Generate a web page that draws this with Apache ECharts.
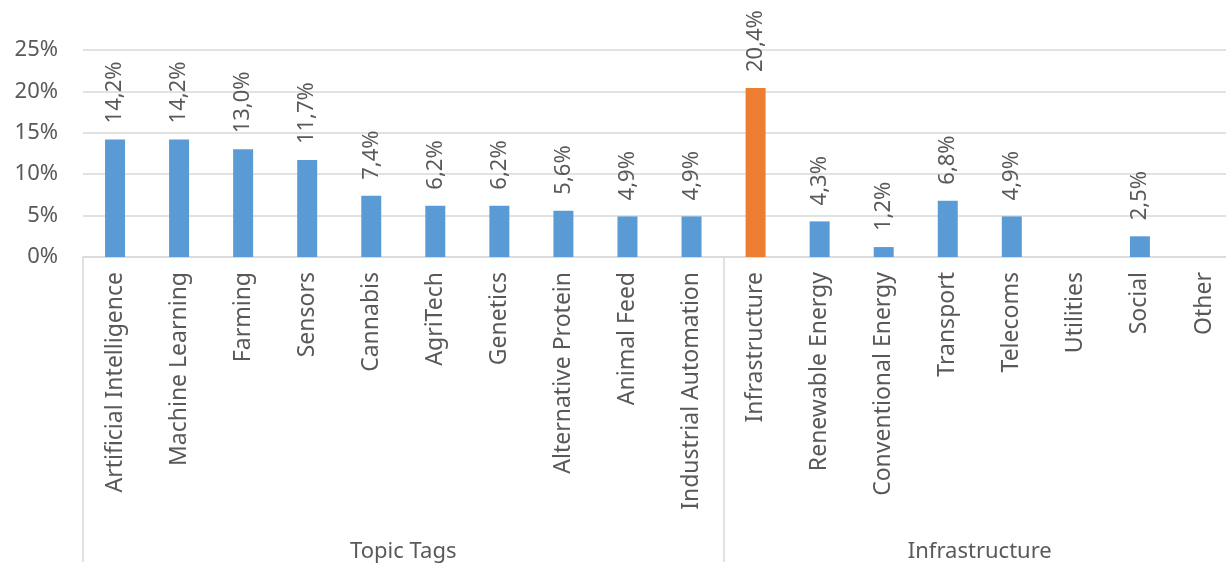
<!DOCTYPE html>
<html>
<head>
<meta charset="utf-8">
<script src="https://cdn.jsdelivr.net/npm/echarts@6/dist/echarts.min.js"></script>
<style>
  html, body { margin: 0; padding: 0; background: #fff; overflow: hidden; }
  /* the source picture is cropped on the right, so the chart is a bit wider than the window */
  #chart { width: 1239px; height: 563px; }
</style>
</head>
<body>
<div id="chart"></div>
<script>
const categories = [
  'Artificial Intelligence', 'Machine Learning', 'Farming', 'Sensors', 'Cannabis',
  'AgriTech', 'Genetics', 'Alternative Protein', 'Animal Feed', 'Industrial Automation',
  'Infrastructure', 'Renewable Energy', 'Conventional Energy', 'Transport', 'Telecoms',
  'Utilities', 'Social', 'Other'
]
const values = [14.2, 14.2, 13.0, 11.7, 7.4, 6.2, 6.2, 5.6, 4.9, 4.9, 20.4, 4.3, 1.2, 6.8, 4.9, null, 2.5, null]
const groups = ['Topic Tags', 'Infrastructure']
const groupSizes = [10, 8]
const highlighted = ['Infrastructure']
const yTicks = [0, 5, 10, 15, 20, 25]

const BLUE = '#5b9bd5'
const ORANGE = '#ed7d31'
const TEXT = '#595959'
const FONT = 'Noto Sans'

// group boundaries and centers in category units
const bounds = [0]
groupSizes.forEach(n => bounds.push(bounds[bounds.length - 1] + n))
const groupCenters = groups.map((g, i) => (bounds[i] + bounds[i + 1]) / 2)

const chart = echarts.init(document.getElementById('chart'), null, { renderer: 'canvas' })

const option = {
  backgroundColor: '#fff',
  animation: false,
  grid: { left: 83, right: 0, top: 50, bottom: 305, containLabel: false },
  xAxis: [
    {
      type: 'category',
      data: categories,
      axisLine: { lineStyle: { color: '#d9d9d9', width: 1.5 } },
      axisTick: {
        show: true,
        length: 305,
        interval: (i) => bounds.slice(0, -1).includes(i),
        lineStyle: { color: '#d9d9d9', width: 1.5 }
      },
      axisLabel: {
        rotate: 90,
        interval: 0,
        margin: 15,
        color: TEXT,
        fontFamily: FONT,
        fontSize: 23
      }
    },
    {
      type: 'value',
      position: 'bottom',
      offset: 276,
      gridIndex: 0,
      min: 0,
      max: categories.length,
      interval: 0.5,
      axisLine: { show: false },
      axisTick: { show: false },
      splitLine: { show: false },
      axisLabel: {
        color: TEXT,
        fontFamily: FONT,
        fontSize: 22,
        formatter: (v) => {
          const k = groupCenters.indexOf(v)
          return k >= 0 ? groups[k] : ''
        }
      }
    }
  ],
  yAxis: {
    type: 'value',
    min: yTicks[0],
    max: yTicks[yTicks.length - 1],
    interval: 5,
    axisLine: { show: false },
    axisTick: { show: false },
    splitLine: { lineStyle: { color: '#d9d9d9', width: 1.5 } },
    axisLabel: {
      color: TEXT,
      fontFamily: FONT,
      fontSize: 22,
      margin: 25,
      formatter: '{value}%'
    }
  },
  series: [
    {
      type: 'bar',
      xAxisIndex: 0,
      barWidth: 20,
      data: values.map((v, i) => ({
        value: v,
        itemStyle: { color: highlighted.includes(categories[i]) ? ORANGE : BLUE }
      })),
      label: {
        show: true,
        position: 'top',
        rotate: 90,
        align: 'left',
        verticalAlign: 'middle',
        distance: 16,
        color: TEXT,
        fontFamily: FONT,
        fontSize: 22,
        formatter: (p) => p.value == null ? '' : p.value.toFixed(1).replace('.', ',') + '%'
      }
    }
  ]
}

chart.setOption(option)
</script>
</body>
</html>
